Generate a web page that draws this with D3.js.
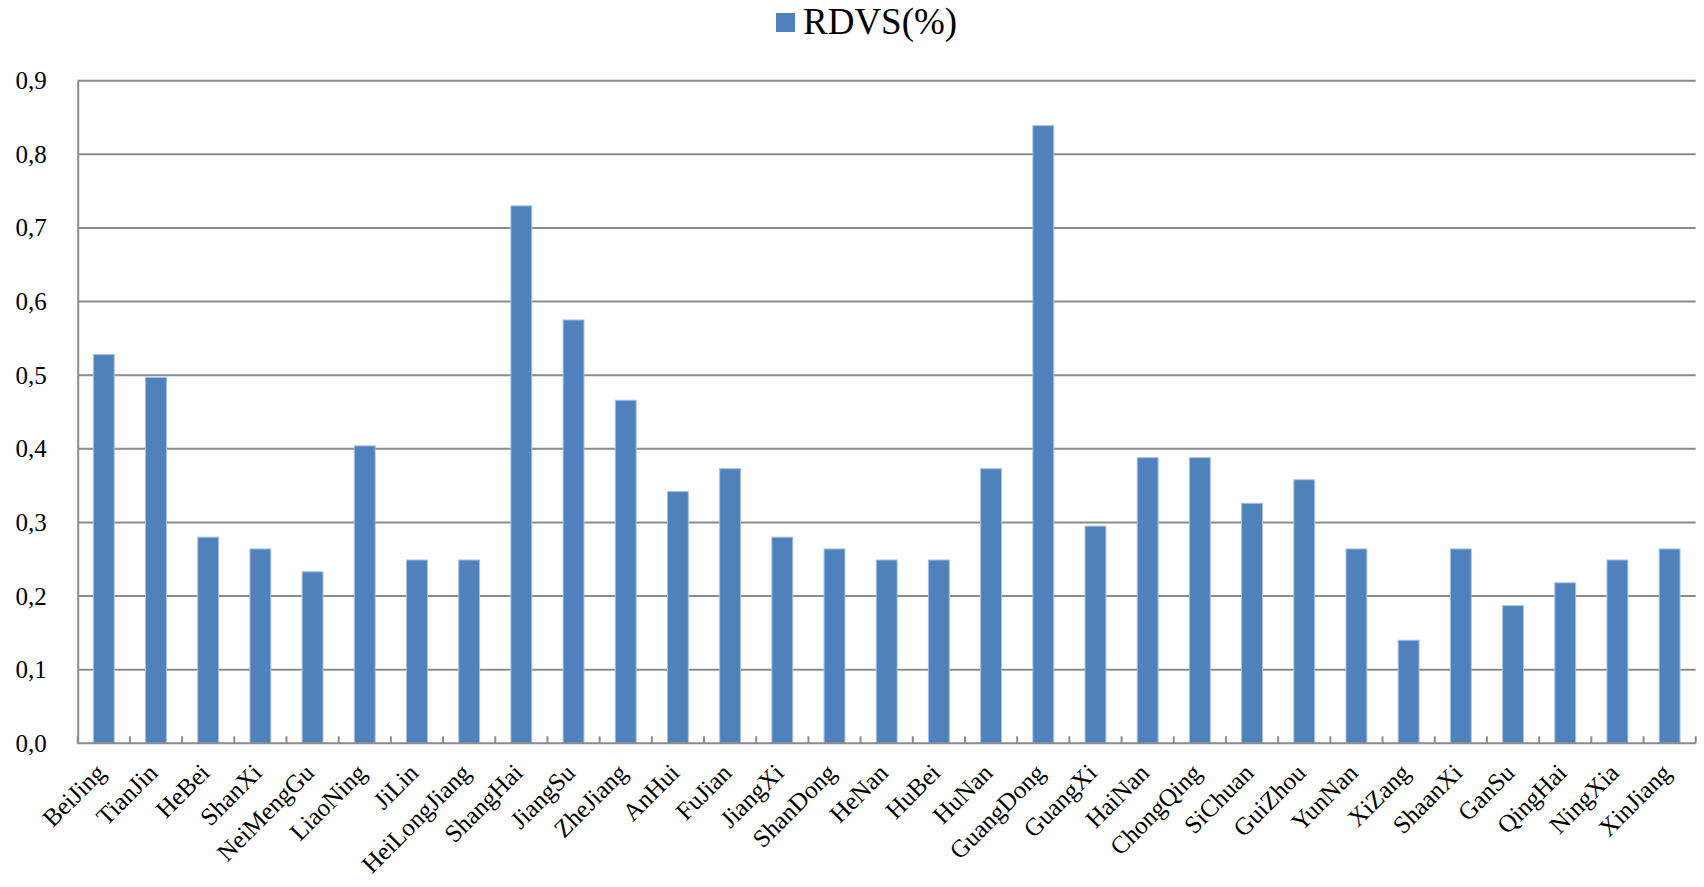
<!DOCTYPE html>
<html>
<head>
<meta charset="utf-8">
<script src="https://cdn.jsdelivr.net/npm/d3@7"></script>
<style>
  html, body { margin: 0; padding: 0; background: #fff; }
  svg { display: block; }
  text { font-family: "Liberation Serif", "Times New Roman", serif; fill: #000; }
</style>
</head>
<body>
<svg id="chart" width="1704" height="887"></svg>
<script>
const categories = ["BeiJing","TianJin","HeBei","ShanXi","NeiMengGu","LiaoNing","JiLin","HeiLongJiang","ShangHai","JiangSu","ZheJiang","AnHui","FuJian","JiangXi","ShanDong","HeNan","HuBei","HuNan","GuangDong","GuangXi","HaiNan","ChongQing","SiChuan","GuiZhou","YunNan","XiZang","ShaanXi","GanSu","QingHai","NingXia","XinJiang"];
const rdvs = [0.528,0.497,0.280,0.264,0.233,0.404,0.249,0.249,0.730,0.575,0.466,0.342,0.373,0.280,0.264,0.249,0.249,0.373,0.839,0.295,0.388,0.388,0.326,0.358,0.264,0.140,0.264,0.187,0.218,0.249,0.264];
const yTicks = [0,0.1,0.2,0.3,0.4,0.5,0.6,0.7,0.8,0.9];
const seriesName = "RDVS(%)";

const svg = d3.select("#chart");
const mLeft = 77.7, mRight = 1695.7, mTop = 80.7, mBottom = 743.3;

const x = d3.scaleBand().domain(categories).range([mLeft, mRight]).paddingInner(0.6).paddingOuter(0.3);
const xb = d3.scaleBand().domain(categories).range([mLeft, mRight]);
const y = d3.scaleLinear().domain([0, 0.9]).range([mBottom, mTop]);

// gridlines
svg.append("g").selectAll("line").data(yTicks.filter(d => d > 0)).join("line")
  .attr("x1", mLeft).attr("x2", mRight)
  .attr("y1", d => y(d)).attr("y2", d => y(d))
  .attr("stroke", "#8c8c8c").attr("stroke-width", 2);

// bars
svg.append("g").selectAll("rect").data(categories).join("rect")
  .attr("x", d => x(d))
  .attr("width", x.bandwidth())
  .attr("y", (d, i) => y(rdvs[i]))
  .attr("height", (d, i) => y(0) - y(rdvs[i]))
  .attr("fill", "#4f81bd")
  .attr("stroke", "#a9c1e0").attr("stroke-width", 1);

// y axis
const yAxis = d3.axisLeft(y).tickValues(yTicks).tickSize(0).tickPadding(31)
  .tickFormat(d => d3.format(".1f")(d).replace(".", ","));
const gy = svg.append("g").attr("transform", `translate(${mLeft},0)`).call(yAxis);
gy.select(".domain").attr("stroke", "#8c8c8c").attr("stroke-width", 2);
gy.selectAll("text").style("font-size", "25px").style("font-family", "Liberation Serif").attr("fill", "#000");

// x axis baseline and ticks (pointing up, at band boundaries)
svg.append("line").attr("x1", mLeft).attr("x2", mRight).attr("y1", mBottom).attr("y2", mBottom)
  .attr("stroke", "#8c8c8c").attr("stroke-width", 2);
const bounds = categories.map(c => xb(c)).concat([mRight]);
svg.append("g").selectAll("line").data(bounds).join("line")
  .attr("x1", d => d).attr("x2", d => d)
  .attr("y1", mBottom).attr("y2", mBottom - 7)
  .attr("stroke", "#8c8c8c").attr("stroke-width", 2);

// x labels rotated
svg.append("g").selectAll("text").data(categories).join("text")
  .attr("transform", d => `translate(${xb(d) + xb.bandwidth() / 2 + 3},${mBottom + 31}) rotate(-45)`)
  .attr("text-anchor", "end")
  .style("font-size", "25px")
  .text(d => d);

// legend
svg.append("rect").attr("x", 776).attr("y", 13).attr("width", 19).attr("height", 19).attr("fill", "#4f81bd");
svg.append("text").attr("x", 803).attr("y", 34).style("font-size", "37px").text(seriesName);
</script>
</body>
</html>
